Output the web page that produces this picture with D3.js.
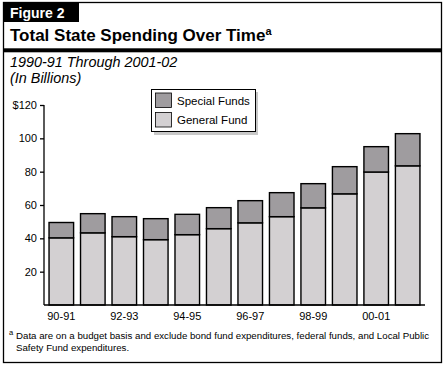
<!DOCTYPE html>
<html>
<head>
<meta charset="utf-8">
<script src="https://cdn.jsdelivr.net/npm/d3@7"></script>
<style>
    body { margin: 0; background: #fff; }
    svg text { font-family: "Liberation Sans", Arial, Helvetica, sans-serif; fill: #000; }
</style>
</head>
<body>
<svg id="chart"></svg>
<script>
// Fiscal years and spending (billions)
const years = ["90-91", "91-92", "92-93", "93-94", "94-95", "95-96", "96-97", "97-98", "98-99", "99-00", "00-01", "01-02"];
const generalFund = [40.3, 43.3, 41.0, 39.2, 42.2, 45.8, 49.3, 53.0, 58.3, 66.7, 79.8, 83.5];
const specialFunds = [9.2, 11.5, 12.0, 12.6, 12.2, 12.6, 13.3, 14.4, 14.5, 16.3, 15.2, 19.3];
const yTicks = [20, 40, 60, 80, 100, 120];
const xLabels = ["90-91", "92-93", "94-95", "96-97", "98-99", "00-01"];
const seriesNames = ["Special Funds", "General Fund"];

const W = 447, H = 370;
const colors = { "General Fund": "#d3d0d2", "Special Funds": "#9f9c9f" };

const svg = d3.select("#chart").attr("width", W).attr("height", H);

// Outer frame
svg.append("rect")
    .attr("x", 3.5).attr("y", 2.5)
    .attr("width", 438).attr("height", 360)
    .attr("fill", "#fff").attr("stroke", "#000").attr("stroke-width", 1.3);

// Figure tab
svg.append("rect")
    .attr("x", 3).attr("y", 2)
    .attr("width", 76).attr("height", 20)
    .attr("fill", "#000");
svg.append("text")
    .attr("x", 10).attr("y", 17.5)
    .attr("font-size", 14).attr("font-weight", "bold")
    .style("fill", "#fff")
    .text("Figure 2");

// Title
const title = svg.append("text")
    .attr("x", 10).attr("y", 41)
    .attr("font-size", 17).attr("font-weight", "bold");
title.append("tspan").text("Total State Spending Over Time");
title.append("tspan").attr("font-size", 11).attr("dy", -6).text("a");

svg.append("rect")
    .attr("x", 3).attr("y", 48.3)
    .attr("width", 439).attr("height", 4)
    .attr("fill", "#000");

// Subtitle
svg.append("text")
    .attr("x", 10).attr("y", 67)
    .attr("font-size", 14.4).attr("font-style", "italic")
    .text("1990-91 Through 2001-02");
svg.append("text")
    .attr("x", 10).attr("y", 83)
    .attr("font-size", 14.4).attr("font-style", "italic")
    .text("(In Billions)");

// Scales
const x = d3.scaleBand()
    .domain(years)
    .range([44, 425])
    .paddingInner(0.22)
    .paddingOuter(0.16);

const y = d3.scaleLinear()
    .domain([0, 120])
    .range([305, 105]);

// Stacked bars
const rows = years.map((yr, i) => ({ year: yr, "General Fund": generalFund[i], "Special Funds": specialFunds[i] }));
const stack = d3.stack().keys(["General Fund", "Special Funds"])(rows);

svg.append("g")
    .selectAll("g")
    .data(stack)
    .join("g")
    .attr("fill", d => colors[d.key])
    .selectAll("rect")
    .data(d => d)
    .join("rect")
    .attr("x", d => x(d.data.year))
    .attr("y", d => y(d[1]))
    .attr("width", x.bandwidth())
    .attr("height", d => y(d[0]) - y(d[1]))
    .attr("stroke", "#000")
    .attr("stroke-width", 1.4);

// Y axis
const yAxis = svg.append("g")
    .attr("transform", "translate(44,0)")
    .call(d3.axisLeft(y).tickValues(yTicks).tickSize(4).tickPadding(3)
        .tickFormat(d => d === 120 ? "$120" : d));
yAxis.select(".domain").attr("d", `M0,${y(120)}V${y(0)}`).attr("stroke-width", 1.3);
yAxis.selectAll(".tick line").attr("stroke-width", 1.3);
yAxis.selectAll("text").attr("font-size", 11).style("font-family", null);

// X axis
const xAxis = svg.append("g")
    .attr("transform", `translate(0,${y(0)})`)
    .call(d3.axisBottom(x).tickValues(xLabels).tickSize(0).tickPadding(7));
xAxis.select(".domain").attr("d", `M44,0H425`).attr("stroke-width", 1.3);
xAxis.selectAll("text").attr("font-size", 11).style("font-family", null);

// Legend
const lg = svg.append("g").attr("transform", "translate(151,89)");
lg.append("rect")
    .attr("x", 3).attr("y", 3)
    .attr("width", 104).attr("height", 43)
    .attr("fill", "#c8c8c8");
lg.append("rect")
    .attr("x", 0.5).attr("y", 0.5)
    .attr("width", 104).attr("height", 42)
    .attr("fill", "#fff").attr("stroke", "#000").attr("stroke-width", 1);
seriesNames.forEach((name, i) => {
    lg.append("rect")
        .attr("x", 4.5).attr("y", 4 + i * 19.5)
        .attr("width", 16).attr("height", 14.5)
        .attr("fill", colors[name]).attr("stroke", "#000").attr("stroke-width", 0.8);
    lg.append("text")
        .attr("x", 26).attr("y", 15.5 + i * 19.5)
        .attr("font-size", 11.5)
        .text(name);
});

// Footnote
svg.append("text")
    .attr("x", 9).attr("y", 335)
    .attr("font-size", 7.5)
    .text("a");
svg.append("text")
    .attr("x", 16).attr("y", 339)
    .attr("font-size", 9.7)
    .text("Data are on a budget basis and exclude bond fund expenditures, federal funds, and Local Public");
svg.append("text")
    .attr("x", 16).attr("y", 351)
    .attr("font-size", 9.7)
    .text("Safety Fund expenditures.");
</script>
</body>
</html>
